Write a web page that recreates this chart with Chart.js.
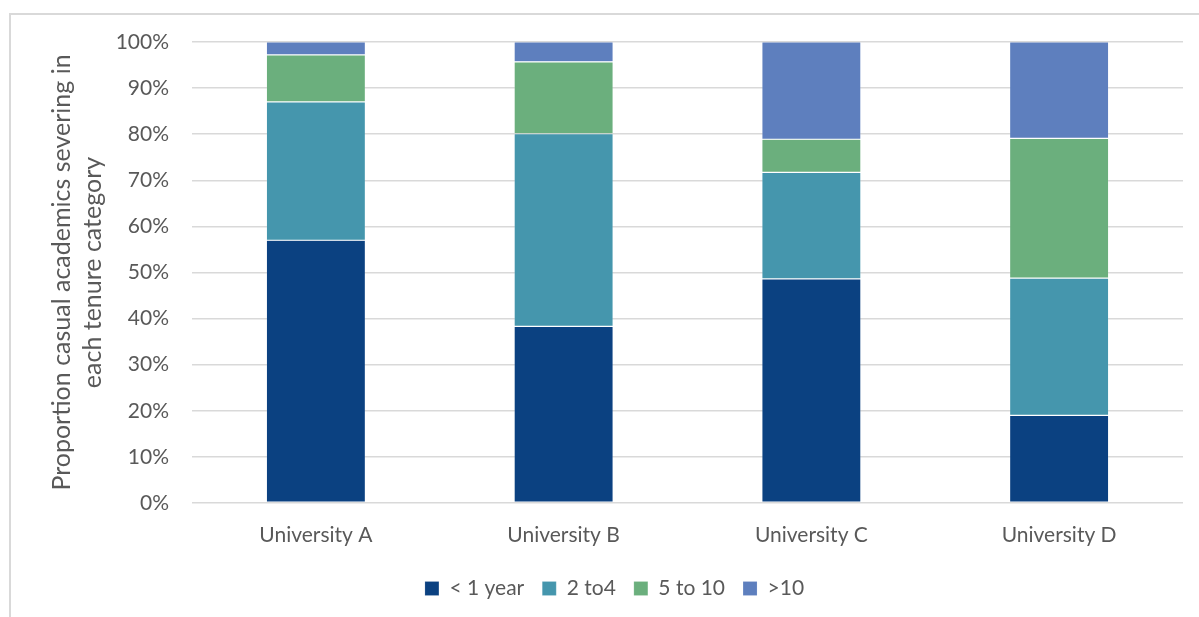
<!DOCTYPE html>
<html>
<head>
<meta charset="utf-8">
<script src="https://cdn.jsdelivr.net/npm/chart.js@4/dist/chart.umd.min.js"></script>
<style>
  html, body { margin: 0; padding: 0; background: #ffffff; }
  #wrap { position: relative; width: 1199px; height: 617px; overflow: hidden; }
  #frame { position: absolute; left: 9px; top: 13px; width: 1300px; height: 700px;
           border-left: 2px solid #d9d9d9; border-top: 2px solid #d9d9d9; box-sizing: border-box; }
  #c { position: absolute; left: 0; top: 0; }
</style>
</head>
<body>
<div id="wrap">
  <div id="frame"></div>
  <canvas id="c" width="1199" height="617"></canvas>
</div>
<script>
// Share of casual academics severing, by tenure band (percent of each university)
const universities = ['University A', 'University B', 'University C', 'University D'];
const tenureBands = ['< 1 year', '2 to4', '5 to 10', '>10'];
const lessThanOneYear = [57.0, 38.3, 48.6, 19.0];
const twoToFour       = [30.0, 41.8, 23.1, 29.8];
const fiveToTen       = [10.2, 15.6,  7.2, 30.3];
const overTen         = [ 2.8,  4.3, 21.1, 20.9];
const yTicks = [0, 10, 20, 30, 40, 50, 60, 70, 80, 90, 100];

const bandColors = ['#0b4181', '#4596ad', '#6baf7d', '#5e7fbe'];
const seriesValues = [lessThanOneYear, twoToFour, fiveToTen, overTen];
const textColor = '#595959';
const fontFamily = 'Lato, "Open Sans", sans-serif';

const datasets = tenureBands.map((name, i) => ({
  label: name,
  data: seriesValues[i],
  backgroundColor: bandColors[i],
  borderColor: 'rgba(255,255,255,0.25)',
  borderWidth: 0.6,
  borderSkipped: false,
  categoryPercentage: 1.0,
  barPercentage: 0.4
}));

new Chart(document.getElementById('c'), {
  type: 'bar',
  data: { labels: universities, datasets },
  options: {
    responsive: false,
    animation: false,
    layout: { padding: { left: 46, right: 16, top: 42, bottom: 8 } },
    plugins: {
      tooltip: { enabled: false },
      legend: {
        position: 'bottom',
        labels: {
          color: textColor,
          font: { family: fontFamily, size: 21 },
          boxWidth: 14,
          boxHeight: 14,
          padding: 18
        }
      }
    },
    scales: {
      x: {
        stacked: true,
        grid: { display: false, drawTicks: false },
        border: { display: false },
        ticks: { color: textColor, font: { family: fontFamily, size: 21 }, padding: 20 },
        afterFit: (s) => { s.height = 57; }
      },
      y: {
        stacked: true,
        min: 0,
        max: 100,
        afterBuildTicks: (s) => { s.ticks = yTicks.map(v => ({ value: v })); },
        grid: { color: '#d9d9d9', lineWidth: 1.6, drawTicks: false },
        border: { display: false },
        ticks: {
          color: textColor,
          font: { family: fontFamily, size: 21 },
          padding: 23,
          callback: (v) => v + '%'
        },
        title: {
          display: true,
          text: ['Proportion casual academics severing in', 'each tenure category'],
          color: textColor,
          font: { family: fontFamily, size: 25, lineHeight: 1.24 },
          padding: { top: 0, bottom: 0 }
        },
        afterFit: (s) => { s.width = 146; }
      }
    }
  }
});
</script>
</body>
</html>
